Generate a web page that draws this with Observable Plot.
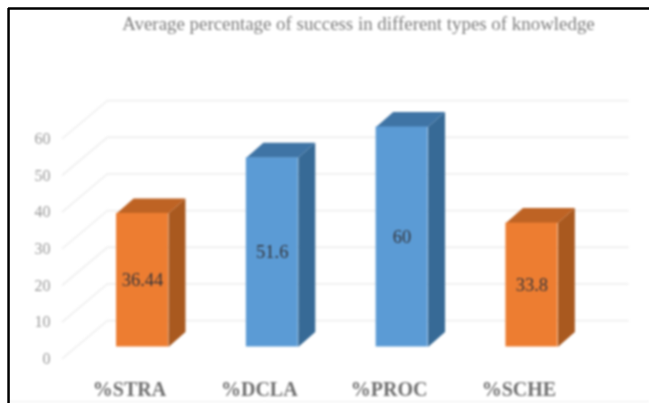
<!DOCTYPE html>
<html><head><meta charset="utf-8">
<script src="https://cdn.jsdelivr.net/npm/d3@7"></script>
<script src="https://cdn.jsdelivr.net/npm/@observablehq/plot@0.6"></script>
<style>html,body{margin:0;padding:0;background:#fff}svg{display:block}</style>
</head><body><div id="chart"></div>
<script>
const categories = ["%STRA","%DCLA","%PROC","%SCHE"];
const values = [36.44,51.6,60,33.8];
const labels = ["36.44","51.6","60","33.8"];
const families = ["orange","blue","blue","orange"];
const gridTicks = [0,10,20,30,40,50,60];
const titleText = "Average percentage of success in different types of knowledge";
const frontColors = {orange:"#ED7D31",blue:"#5B9BD5"};
const sideColors = {orange:"#A9591F",blue:"#376A96"};
const topColors = {orange:"#BE6324",blue:"#3F74A5"};

const halfW = 0.2, depthX = 0.131, depthY = 4.09;
const wallBack = {x:-0.27, lift:7.2}, wallFront = {x:-0.616, lift:-3.1}, wallEnd = 3.74;
const frameLeft = -1.032, frameTop = 92.3, frameBottom = -14.86, frameRight = 3.906;

const rows = categories.map((c,i)=>({c,i,v:values[i],label:labels[i],fam:families[i]}));
const sides = rows.flatMap(r=>[
  {k:r.c,x:r.i+halfW,y:0},{k:r.c,x:r.i+halfW+depthX,y:depthY},
  {k:r.c,x:r.i+halfW+depthX,y:r.v+depthY},{k:r.c,x:r.i+halfW,y:r.v}
].map(p=>({...p,fill:sideColors[r.fam]})));
const tops = rows.flatMap(r=>[
  {k:r.c,x:r.i-halfW,y:r.v},{k:r.c,x:r.i+halfW,y:r.v},
  {k:r.c,x:r.i+halfW+depthX,y:r.v+depthY},{k:r.c,x:r.i-halfW+depthX,y:r.v+depthY}
].map(p=>({...p,fill:topColors[r.fam]})));
const grid = gridTicks.flatMap(t=>[
  {t,x:wallFront.x,y:t+wallFront.lift},{t,x:wallBack.x,y:t+wallBack.lift},{t,x:wallEnd,y:t+wallBack.lift}
]);
const serif = "'Liberation Serif',serif";

const plot = Plot.plot({
  width:649,height:403,
  marginLeft:56,marginRight:0,marginTop:0,marginBottom:30,
  x:{domain:[-0.6626,3.906],axis:null},
  y:{domain:[-7.23,94.5],axis:null},
  style:{background:"#fff",fontFamily:serif},
  marks:[
    Plot.line(grid,{x:"x",y:"y",z:"t",stroke:"#f0f0f0",strokeWidth:1.8}),
    Plot.axisY({ticks:gridTicks,tickSize:0,anchor:"left",tickPadding:6,label:null,dy:12,fontSize:16,color:"#999999",fontFamily:serif}),
    Plot.axisX({ticks:[0,1,2,3],tickFormat:i=>categories[i],tickSize:0,label:null,tickPadding:8,dx:-13,fontSize:20,fontWeight:"bold",color:"#6e6e6e",fontFamily:serif}),
    Plot.line(sides,{x:"x",y:"y",z:"k",fill:"fill",stroke:"none"}),
    Plot.line(tops,{x:"x",y:"y",z:"k",fill:"fill",stroke:"none"}),
    Plot.rect(rows,{x1:d=>d.i-halfW,x2:d=>d.i+halfW,y1:0,y2:"v",fill:d=>frontColors[d.fam],inset:0}),
    Plot.text(rows,{x:"i",y:d=>d.v/2,text:"label",fontSize:18.5,fill:"#33343a",fontFamily:serif}),
    Plot.text([titleText],{x:1.664,y:88,text:d=>d,fontSize:18.9,fill:"#7c7c7c",fontFamily:serif}),
    Plot.ruleY([frameBottom],{x1:frameLeft,x2:frameRight,stroke:"#ececec",strokeWidth:1}),
    Plot.ruleY([frameTop],{x1:frameLeft,x2:frameRight,stroke:"#000",strokeWidth:2.5,className:"frame"}),
    Plot.ruleX([frameLeft],{y1:frameTop,y2:frameBottom-1,stroke:"#000",strokeWidth:2.5,className:"frame"})
  ]
});
const soft = document.createElementNS("http://www.w3.org/2000/svg","g");
soft.style.filter = "blur(1px)";
const groups = [...plot.querySelectorAll(":scope > g")];
plot.insertBefore(soft, groups[0]);
groups.forEach(g=>{ if (!g.classList.contains("frame")) soft.append(g); });
document.getElementById("chart").append(plot);
</script></body></html>
